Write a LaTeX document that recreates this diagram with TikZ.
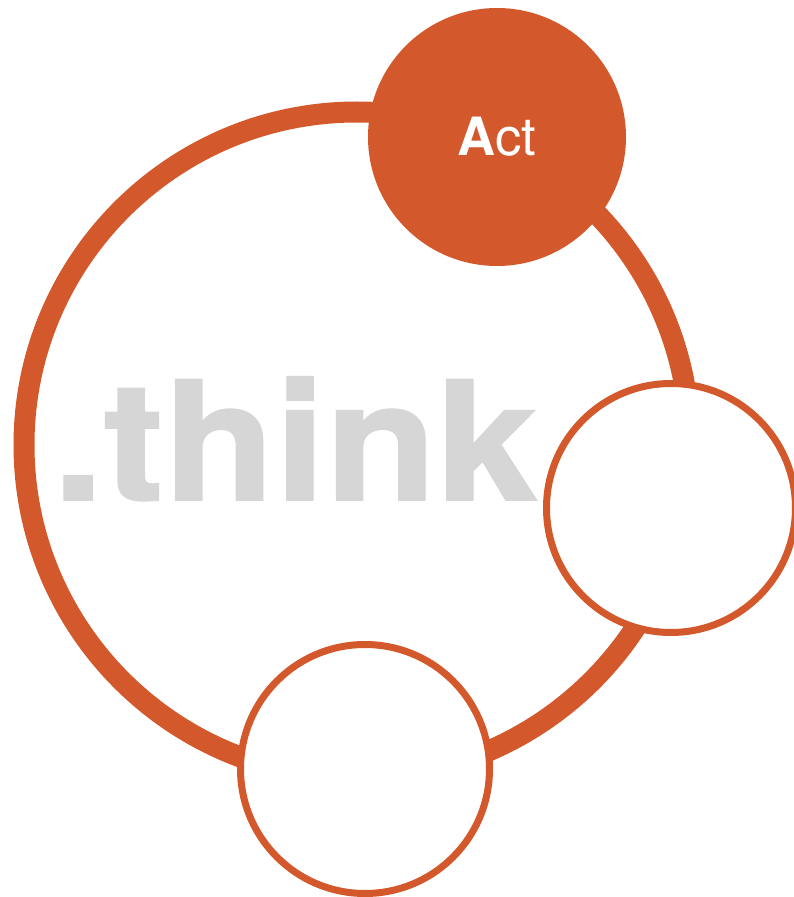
\documentclass[tikz,border=0pt]{standalone}
\usepackage{fontspec}
\usepackage{tikz}
\setmainfont{TeX Gyre Heros}
\newfontfamily\thinkfont[BoldFeatures={FakeBold=1.2}]{TeX Gyre Heros}
\definecolor{thinkorange}{RGB}{211,89,44}
\definecolor{thinkgray}{RGB}{214,214,214}
\tikzset{
	stage/.style={circle, draw=thinkorange, line width=0.14cm, fill=white, minimum size=4.98cm, inner sep=0pt},
	active/.style={circle, fill=thinkorange, minimum size=5.16cm, inner sep=0pt, text=white, font=\fontsize{30}{30}\selectfont}
}
\begin{document}
\begin{tikzpicture}
		\useasboundingbox (0,0) rectangle (15.88,17.94);
		\coordinate (c) at (7.14,9.04);
		\draw [line width=0.42cm, thinkorange] (c) circle (6.66);
		\node[anchor=base west, text=thinkgray, font=\thinkfont\bfseries\fontsize{94}{94}\selectfont, xscale=1.1, transform shape, inner sep=0pt] (think) at (1.05,7.94) {.think};
		\node[active] (act) at (9.94,15.2) {\textbf{A}ct};
		\node[stage] (s2) at (13.42,7.78) {};
		\node[stage] (s3) at (7.3,2.56) {};
	\end{tikzpicture}
\end{document}
